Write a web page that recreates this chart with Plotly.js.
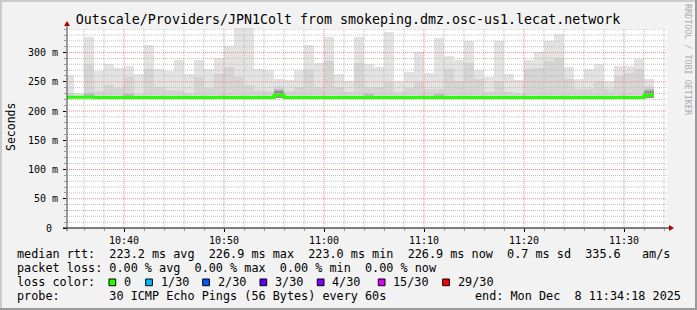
<!DOCTYPE html>
<html><head><meta charset="utf-8">
<script src="https://cdn.plot.ly/plotly-3.0.1.min.js"></script>
<style>html,body{margin:0;padding:0;background:#f2f2f2;}#chart{width:697px;height:310px;}</style>
</head><body><div id="chart"></div>
<script>
// ---- data ----
const dayPrefix = '2025-12-08 ';
const timeLabels = ['10:34','10:35','10:36','10:37','10:38','10:39','10:40','10:41','10:42','10:43','10:44','10:45','10:46','10:47','10:48','10:49','10:50','10:51','10:52','10:53','10:54','10:55','10:56','10:57','10:58','10:59',
 '11:00','11:01','11:02','11:03','11:04','11:05','11:06','11:07','11:08','11:09','11:10','11:11','11:12','11:13','11:14','11:15','11:16','11:17','11:18','11:19','11:20','11:21','11:22','11:23','11:24','11:25','11:26','11:27','11:28','11:29','11:30','11:31','11:32'];
const dataEnd = '11:33';
// smoke layers (ms): outer max, middle, inner, core
const smokeMax = [261,231,327,268.5,281,273,277,264,313,271.5,268.5,287.5,263.5,287.5,272,290,312,345,345,272,271,255,252.5,271,313,282,
 327,263.5,251.5,327,281,275.5,335.5,251,267,301,265.5,325,294.5,286.5,320.5,270.5,259,320.5,263.5,252.5,287,301,320.5,332,275.5,255,272,281,251,277.5,276.5,289.5,254.5];
const smokeMid = [231,226,281,234,245,240,258,230,272,241,236,236,230,258,239,263.5,276,258.5,245,236.5,235,242,235,241,270,241,
 285,241,232,283,241,241,250,232,240,250.5,238,238.5,272.5,251,282,255,232,252,232,230,272,273.5,285,290,255,238,238,252,238,260,265,272,242];
const smokeInner = [null,null,231,null,null,null,229,null,null,null,null,null,null,null,null,null,null,null,null,null,null,238,null,null,null,null,
 null,null,null,null,229,null,null,null,null,null,null,230,null,null,null,null,null,null,null,null,null,null,null,null,null,null,null,null,null,null,null,null,238];
const smokeCore = [null,null,null,null,null,null,null,null,null,null,null,null,null,null,null,null,null,null,null,null,null,235,null,null,null,null,
 null,null,null,null,null,null,null,null,null,null,null,null,null,null,null,null,null,null,null,null,null,null,null,null,null,null,null,null,null,null,null,null,233.5];
const smokeBase = 222;
const medianRtt = [223.4,223.4,223.4,223.1,223.1,223.1,223.1,223.1,223.1,223.1,223.1,223.1,223.1,223.1,223.1,223.1,223.1,223.1,223.1,223.1,223.1,226.9,223.0,223.1,223.1,223.1,
 223.1,223.1,223.1,223.1,223.1,223.1,223.1,223.0,223.1,223.1,223.1,223.1,223.1,223.1,223.1,223.0,223.1,223.1,223.1,223.1,223.1,223.1,223.1,223.1,223.1,223.1,223.1,223.1,223.1,223.1,223.1,223.1,226.9];
const yTickVals = [0,50,100,150,200,250,300];
const yTickText = ['0\u00a0','50 m','100 m','150 m','200 m','250 m','300 m'];
const titleText = 'Outscale/Providers/JPN1Colt from smokeping.dmz.osc-us1.lecat.network';
const legendLines = [
 'median rtt:  223.2 ms avg  226.9 ms max  223.0 ms min  226.9 ms now  0.7 ms sd  335.6   am/s',
 'packet loss: 0.00 % avg  0.00 % max  0.00 % min  0.00 % now',
 'loss color:',
 'probe:       30 ICMP Echo Pings (56 Bytes) every 60s'
];
const endText = 'end: Mon Dec  8 11:34:18 2025';
const lossLabels = ['0','1/30','2/30','3/30','4/30','15/30','29/30'];
const lossColors = ['#26ff00','#00b8ff','#0059ff','#5e00ff','#7e00ff','#dd00ff','#ff0000'];

// ---- layout geometry ----
const W=697,H=310,ML=67,MR=30,MT=28,MB=82,PW=W-ML-MR,PH=H-MT-MB;
const px = x => (x-ML)/PW;
const py = y => (H-MB-y)/PH;
const lossBoxX = [109,145.7,202.7,260,317.3,378.3,442.7];
const lossLabelX = [123.3,160,216.7,274,331,391.7,456.7];
const legendY = [254.3,268.3,282.3,295.7];
const FONT = 'DejaVu Sans Mono';
const nb = s => s.replace(/ /g,'\u00a0');
const xStart = dayPrefix+'10:34:18', xEnd = dayPrefix+'11:34:18';
const yMax = 342;

const centers = timeLabels.map(t => dayPrefix+t+':30');
const starts = timeLabels.map(t => dayPrefix+t+':00');

function smokeTrace(vals, color){
  return {type:'bar', x:centers, y:vals.map(v => v==null?null:v-smokeBase), base:smokeBase,
    width:60000, marker:{color:color, line:{width:0}}, hoverinfo:'skip', showlegend:false};
}
const traces = [
  smokeTrace(smokeMax,'#e3e3e3'),
  smokeTrace(smokeMid,'#d5d5d5'),
  smokeTrace(smokeInner,'#bababa'),
  smokeTrace(smokeCore,'#8e8e8e')
];

// grid (drawn above smoke as in rrdtool)
function gridTrace(xs, ys, color){
  return {type:'scatter', mode:'lines', x:xs, y:ys, line:{color:color,width:1,dash:'1px,1px'},
    hoverinfo:'skip', showlegend:false, connectgaps:false};
}
const vMinX=[],vMinY=[],vMajX=[],vMajY=[];
for(let h=10; h<=11; h++){
  for(let m=0; m<60; m+=2){
    const t = dayPrefix+(h<10?'0':'')+h+':'+(m<10?'0':'')+m+':00';
    const tv = h*60+m;
    if(tv < 10*60+35 || tv > 11*60+34) continue;
    if(m%10===0){ vMajX.push(t,t,null); vMajY.push(0,yMax,null); }
    else { vMinX.push(t,t,null); vMinY.push(0,yMax,null); }
  }
}
const hMinX=[],hMinY=[],hMajX=[],hMajY=[];
for(let v=10; v<yMax; v+=10){
  if(v%50===0){ hMajX.push(xStart,xEnd,null); hMajY.push(v,v,null); }
  else { hMinX.push(xStart,xEnd,null); hMinY.push(v,v,null); }
}
traces.push(gridTrace(vMinX,vMinY,'#bdbdbd'));
traces.push(gridTrace(hMinX,hMinY,'#bdbdbd'));
traces.push(gridTrace(vMajX,vMajY,'#ee8888'));
traces.push(gridTrace(hMajX,hMajY,'#ee8888'));

traces.push({type:'scatter', mode:'lines', x:starts.concat([dayPrefix+dataEnd+':00']),
  y:medianRtt.concat([medianRtt[medianRtt.length-1]]),
  line:{color:lossColors[0], width:3, shape:'hv'}, hoverinfo:'skip', showlegend:false});

const annotations = [];
const ann = (text,x,y,opts) => Object.assign({text:nb(text), xref:'paper', yref:'paper', x:px(x), y:py(y),
  showarrow:false, xanchor:'left', yanchor:'middle', borderpad:0,
  font:{family:FONT,size:11.8,color:'#000'}}, opts||{});
legendLines.forEach((l,i)=>annotations.push(ann(l,16,legendY[i])));
annotations.push(ann(endText,682,legendY[3],{xanchor:'right'}));
lossLabels.forEach((l,i)=>annotations.push(ann(l,lossLabelX[i],legendY[2])));
annotations.push(ann('Seconds',11,127,{xanchor:'center',textangle:-90,font:{family:FONT,size:11.5,color:'#000'}}));
annotations.push(ann('RRDTOOL / TOBI OETIKER',688,60,{xanchor:'center',textangle:90,font:{family:FONT,size:8.4,color:'#ababab'}}));

const shapes = [];
lossColors.forEach((c,i)=>shapes.push({type:'rect',xref:'paper',yref:'paper',
  x0:px(lossBoxX[i]),x1:px(lossBoxX[i]+6.7),y0:py(285.7),y1:py(279),fillcolor:c,line:{color:'#000',width:1}}));
// axes with arrows
shapes.push({type:'line',xref:'paper',yref:'paper',x0:px(63),x1:px(669),y0:py(228),y1:py(228),line:{color:'#000',width:1}});
shapes.push({type:'line',xref:'paper',yref:'paper',x0:px(67),x1:px(67),y0:py(231),y1:py(26),line:{color:'#404040',width:1}});
shapes.push({type:'path',xref:'paper',yref:'paper',path:`M ${px(64)} ${py(26)} L ${px(70)} ${py(26)} L ${px(67)} ${py(21)} Z`,fillcolor:'#b00000',line:{width:0}});
shapes.push({type:'path',xref:'paper',yref:'paper',path:`M ${px(669)} ${py(225)} L ${px(669)} ${py(231)} L ${px(674)} ${py(228)} Z`,fillcolor:'#b00000',line:{width:0}});
// frame shading
shapes.push({type:'line',xref:'paper',yref:'paper',x0:px(0),x1:px(W),y0:py(1),y1:py(1),line:{color:'#cbcbcb',width:2}});
shapes.push({type:'line',xref:'paper',yref:'paper',x0:px(1),x1:px(1),y0:py(0),y1:py(H),line:{color:'#cbcbcb',width:2}});
shapes.push({type:'line',xref:'paper',yref:'paper',x0:px(0),x1:px(W),y0:py(H-1),y1:py(H-1),line:{color:'#9a9a9a',width:2}});
shapes.push({type:'line',xref:'paper',yref:'paper',x0:px(W-1),x1:px(W-1),y0:py(0),y1:py(H),line:{color:'#9a9a9a',width:2}});

const layout = {
  width:W, height:H, margin:{l:ML,r:MR,t:MT,b:MB,pad:0},
  paper_bgcolor:'#f2f2f2', plot_bgcolor:'#ffffff',
  barmode:'overlay', bargap:0, showlegend:false, hovermode:false,
  title:{text:titleText, x:348/W, xanchor:'center', y:1-19/H, yanchor:'middle',
    font:{family:FONT,size:13.3,color:'#000'}},
  xaxis:{type:'date', range:[xStart,xEnd], tickmode:'linear', tick0:dayPrefix+'10:00:00', dtick:600000,
    tickformat:'%H:%M', showgrid:false, zeroline:false, showline:false,
    ticks:'outside', ticklen:3, tickcolor:'#000', tickfont:{family:FONT,size:10,color:'#000'},
    minor:{dtick:120000, tick0:dayPrefix+'10:00:00', ticks:'outside', ticklen:2, tickcolor:'#999', showgrid:false}},
  yaxis:{range:[0,yMax], tickmode:'array', tickvals:yTickVals, ticktext:yTickText,
    showgrid:false, zeroline:false, showline:false,
    ticks:'outside', ticklen:3, tickcolor:'#000', ticklabelstandoff:3, tickfont:{family:FONT,size:10,color:'#000'},
    minor:{dtick:10, tick0:0, ticks:'outside', ticklen:2, tickcolor:'#999', showgrid:false}},
  annotations:annotations, shapes:shapes
};
Plotly.newPlot('chart', traces, layout, {staticPlot:true, displayModeBar:false});
</script></body></html>
